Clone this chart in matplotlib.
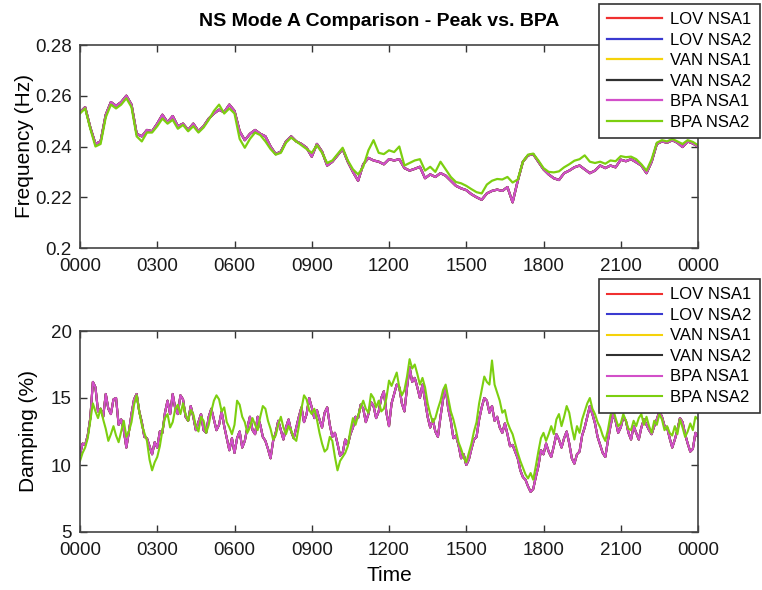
import numpy as np
import matplotlib
matplotlib.use("Agg")
import matplotlib.pyplot as plt

plt.rcParams['font.family'] = ['Liberation Sans', 'DejaVu Sans']

# sample times in hours: frequency every 12 min, damping every 6 min
hours = np.arange(121) * 0.2
hours_fine = np.arange(241) * 0.1

tick_hours = [0, 3, 6, 9, 12, 15, 18, 21, 24]
tick_labels = ['0000', '0300', '0600', '0900', '1200', '1500', '1800', '2100', '0000']

series_names = ['LOV NSA1', 'LOV NSA2', 'VAN NSA1', 'VAN NSA2', 'BPA NSA1', 'BPA NSA2']
series_colors = ['#f03030', '#3a3ad0', '#f5d20a', '#303030', '#d24fc9', '#7ccf10']

# frequency (Hz), BPA NSA1 (magenta trace; peak-site traces sit under it)
freq_bpa1 = [
    0.2535, 0.2555, 0.2475, 0.2410, 0.2420, 0.2525, 0.2575, 0.2560, 0.2575, 0.2600,
    0.2565, 0.2450, 0.2440, 0.2465, 0.2460, 0.2490, 0.2525, 0.2495, 0.2520, 0.2480,
    0.2490, 0.2465, 0.2490, 0.2460, 0.2480, 0.2510, 0.2530, 0.2545, 0.2535, 0.2565,
    0.2540, 0.2460, 0.2425, 0.2450, 0.2465, 0.2450, 0.2440, 0.2400, 0.2370, 0.2380,
    0.2420, 0.2440, 0.2420, 0.2410, 0.2395, 0.2360, 0.2410, 0.2380, 0.2325, 0.2340,
    0.2365, 0.2390, 0.2340, 0.2300, 0.2265, 0.2330, 0.2355, 0.2345, 0.2340, 0.2330,
    0.2350, 0.2345, 0.2350, 0.2315, 0.2305, 0.2312, 0.2320, 0.2275, 0.2290, 0.2280,
    0.2295, 0.2285, 0.2265, 0.2245, 0.2235, 0.2228, 0.2212, 0.2200, 0.2190, 0.2215,
    0.2225, 0.2230, 0.2225, 0.2240, 0.2180, 0.2265, 0.2340, 0.2365, 0.2370, 0.2340,
    0.2310, 0.2290, 0.2275, 0.2268, 0.2295, 0.2305, 0.2318, 0.2325, 0.2310, 0.2295,
    0.2305, 0.2325, 0.2315, 0.2325, 0.2318, 0.2348, 0.2342, 0.2350, 0.2338, 0.2325,
    0.2295, 0.2340, 0.2410, 0.2420, 0.2415, 0.2425, 0.2415, 0.2398, 0.2420, 0.2412,
    0.2400]

# frequency (Hz), BPA NSA2 (green trace)
freq_bpa2 = [
    0.2530, 0.2550, 0.2470, 0.2400, 0.2410, 0.2515, 0.2565, 0.2550, 0.2565, 0.2590,
    0.2555, 0.2440, 0.2420, 0.2455, 0.2455, 0.2480, 0.2510, 0.2490, 0.2505, 0.2470,
    0.2485, 0.2460, 0.2480, 0.2455, 0.2475, 0.2505, 0.2540, 0.2565, 0.2530, 0.2550,
    0.2530, 0.2430, 0.2395, 0.2430, 0.2455, 0.2445, 0.2420, 0.2390, 0.2368, 0.2375,
    0.2415, 0.2435, 0.2420, 0.2405, 0.2390, 0.2375, 0.2405, 0.2375, 0.2335, 0.2345,
    0.2370, 0.2395, 0.2345, 0.2310, 0.2290, 0.2320, 0.2385, 0.2425, 0.2375, 0.2370,
    0.2385, 0.2378, 0.2400, 0.2325, 0.2335, 0.2345, 0.2350, 0.2305, 0.2320, 0.2300,
    0.2340, 0.2310, 0.2280, 0.2260, 0.2255, 0.2245, 0.2232, 0.2220, 0.2215, 0.2250,
    0.2265, 0.2272, 0.2270, 0.2280, 0.2258, 0.2270, 0.2340, 0.2368, 0.2372, 0.2345,
    0.2315, 0.2300, 0.2298, 0.2302, 0.2318, 0.2330, 0.2344, 0.2350, 0.2365, 0.2340,
    0.2335, 0.2340, 0.2332, 0.2345, 0.2342, 0.2362, 0.2358, 0.2360, 0.2350, 0.2330,
    0.2305, 0.2350, 0.2415, 0.2425, 0.2420, 0.2430, 0.2420, 0.2410, 0.2425, 0.2418,
    0.2405]

# damping (%), BPA NSA1 - one row per two hours
damp_bpa1 = [
    10.8, 11.6, 11.5, 12.2, 13.5, 16.2, 15.8, 14.0, 14.2, 13.6, 15.3, 14.2, 13.8, 14.9, 15.0, 13.0, 13.4, 12.6, 11.3, 12.5,
    13.8, 14.9, 15.3, 14.0, 13.2, 12.1, 12.0, 11.4, 10.8, 11.7, 11.3, 12.5, 12.4, 13.9, 14.8, 13.8, 15.3, 14.2, 13.8, 15.2,
    14.9, 13.6, 13.3, 14.4, 13.6, 12.6, 13.2, 13.8, 12.6, 12.4, 13.6, 14.2, 13.4, 12.6, 13.0, 14.0, 12.9, 12.0, 11.1, 12.0,
    10.9, 12.0, 12.5, 11.3, 11.8, 12.8, 13.6, 12.6, 12.3, 13.6, 13.0, 12.1, 11.8, 11.2, 10.5, 11.8, 12.4, 13.3, 12.6, 11.9,
    12.8, 13.4, 12.5, 12.0, 12.8, 13.6, 14.3, 13.2, 13.8, 15.0, 14.3, 13.5, 14.1, 13.4, 12.8, 13.9, 14.3, 13.0, 12.1, 12.4,
    11.6, 10.7, 10.9, 11.9, 11.5, 12.3, 12.8, 13.6, 13.5, 14.5, 14.2, 13.2, 13.8, 14.7, 14.4, 13.5, 14.0, 15.0, 15.5, 13.9,
    12.9, 14.6, 15.3, 16.0, 15.8, 14.6, 14.0, 15.8, 17.3, 16.2, 16.5, 15.8, 15.0, 16.0, 14.8, 13.6, 12.8, 13.4, 12.5, 12.1,
    13.6, 14.9, 15.8, 14.2, 13.3, 12.0, 12.2, 11.5, 10.5, 10.8, 10.0, 10.4, 11.2, 11.9, 12.1, 13.4, 14.3, 15.0, 14.8, 13.9,
    14.4, 13.3, 13.6, 12.8, 12.4, 13.1, 12.3, 11.4, 11.5, 11.0, 10.5, 9.6, 9.1, 8.9, 8.4, 8.0, 8.2, 9.1, 9.9, 11.1,
    10.8, 11.6, 11.0, 10.6, 11.4, 12.3, 11.9, 11.3, 12.0, 12.5, 11.6, 10.5, 10.1, 10.8, 11.0, 12.2, 12.8, 13.6, 14.4, 13.8,
    13.1, 12.1, 11.5, 10.9, 10.6, 11.8, 12.9, 13.8, 13.3, 12.4, 12.8, 13.6, 13.3, 12.4, 11.9, 12.9, 12.4, 11.9, 12.8, 13.4,
    13.0, 12.6, 12.3, 12.9, 13.4, 14.0, 13.6, 12.9, 12.8, 12.0, 11.3, 11.9, 12.6, 13.5, 13.2, 12.3, 11.6, 11.0, 11.2, 12.4,
    12.1]

# damping (%), BPA NSA2
damp_bpa2 = [
    10.3, 10.9, 11.3, 12.0, 13.3, 14.6, 14.0, 13.5, 14.2, 13.4, 12.7, 11.8, 12.3, 12.9, 12.2, 11.7, 12.5, 13.3, 12.1, 12.5,
    13.2, 14.5, 15.2, 14.0, 13.0, 12.4, 11.8, 10.4, 9.6, 10.2, 10.6, 11.4, 12.6, 13.5, 13.8, 12.8, 13.2, 14.2, 14.5, 13.8,
    14.6, 13.8, 13.3, 14.1, 13.8, 12.9, 12.5, 13.6, 13.3, 12.4, 13.0, 14.0, 14.8, 15.2, 14.9, 14.0, 14.3, 13.2, 12.8, 12.3,
    13.0, 14.8, 14.5, 13.6, 13.2, 12.4, 12.8, 13.5, 13.0, 12.6, 13.6, 14.4, 14.2, 13.3, 12.7, 11.9, 12.2, 13.0, 13.6, 12.8,
    12.3, 12.9, 12.6, 12.0, 11.8, 12.9, 14.2, 15.2, 14.9, 14.1, 13.8, 14.2, 13.4, 12.4, 11.6, 11.0, 11.2, 12.1, 11.8, 10.6,
    9.6, 10.3, 10.6, 10.9, 11.4, 12.6, 13.5, 13.0, 13.7, 14.3, 14.8, 14.2, 13.9, 15.3, 15.0, 14.3, 14.8, 14.0, 14.2, 15.0,
    16.3, 15.9, 16.4, 16.9, 15.8, 15.2, 15.6, 16.6, 17.9, 17.2, 17.5, 16.8, 16.0, 16.5, 15.8, 14.6, 13.8, 13.2, 13.5, 14.2,
    14.8, 15.6, 16.0, 15.0, 14.0, 13.4, 12.6, 11.7, 11.2, 10.6, 10.2, 10.9, 11.6, 12.5, 13.2, 14.6, 15.6, 16.6, 16.2, 16.0,
    17.8, 16.0, 15.4, 14.8, 13.9, 14.1, 13.2, 12.7, 12.3, 11.6, 10.9, 10.3, 9.8, 9.3, 9.0, 9.4, 8.9, 9.9, 11.0, 12.0,
    12.4, 11.8, 12.3, 12.9, 12.3, 13.4, 13.8, 12.9, 13.6, 14.4, 13.9, 12.8, 11.9, 12.9, 12.4, 13.4, 14.0, 14.6, 15.0, 14.2,
    13.8, 13.2, 12.8, 12.2, 11.8, 12.6, 13.7, 14.2, 13.5, 12.9, 13.1, 13.8, 13.3, 12.7, 12.6, 13.3, 12.9, 13.5, 13.8, 13.0,
    13.6, 12.9, 12.4, 13.3, 13.0, 13.8, 13.4, 12.6, 12.9, 12.4, 12.2, 12.9, 12.3, 13.4, 12.8, 12.1, 12.5, 13.1, 12.6, 13.6,
    13.4]

# LOV / VAN estimates lie under the BPA NSA1 trace in the picture
freq_data = [freq_bpa1, freq_bpa1, freq_bpa1, freq_bpa1, freq_bpa1, freq_bpa2]
damp_data = [damp_bpa1, damp_bpa1, damp_bpa1, damp_bpa1, damp_bpa1, damp_bpa2]

W, H = 762, 590
fig = plt.figure(figsize=(W / 100, H / 100), dpi=100)
ax1 = fig.add_axes([80 / W, 1 - 248 / H, 618 / W, 203 / H])
ax2 = fig.add_axes([80 / W, 1 - 532 / H, 618 / W, 201 / H])


def style_axis(ax):
    ax.set_xlim(0, 24)
    ax.set_xticks(tick_hours)
    ax.set_xticklabels(tick_labels)
    ax.tick_params(direction='in', top=True, right=True, labelsize=13.5,
                   length=5, width=1.0, colors='#333333', labelcolor='#1a1a1a')
    ax.tick_params(axis='x', pad=7)
    ax.tick_params(axis='y', pad=6)
    for sp in ax.spines.values():
        sp.set_linewidth(1.2)
        sp.set_color('#444444')


for data, name, color in zip(freq_data, series_names, series_colors):
    ax1.plot(hours, data, color=color, lw=1.6, label=name)
style_axis(ax1)
ax1.set_ylim(0.2, 0.28)
ax1.set_yticks([0.2, 0.22, 0.24, 0.26, 0.28])
ax1.set_yticklabels(['0.2', '0.22', '0.24', '0.26', '0.28'])
ax1.set_ylabel('Frequency (Hz)', fontsize=15, labelpad=1)

for data, name, color in zip(damp_data, series_names, series_colors):
    ax2.plot(hours_fine, data, color=color, lw=1.5, label=name)
style_axis(ax2)
ax2.set_ylim(5, 20)
ax2.set_yticks([5, 10, 15, 20])
ax2.set_ylabel('Damping (%)', fontsize=15, labelpad=9)
ax2.set_xlabel('Time', fontsize=15, labelpad=5)

fig.text(379 / W, 1 - 22 / H, 'NS Mode A Comparison - Peak vs. BPA',
         ha='center', va='center', fontsize=14, fontweight='bold')

for ax, top in [(ax1, 4), (ax2, 279)]:
    leg = ax.legend(loc='upper right', bbox_to_anchor=(760 / W, 1 - top / H),
                    bbox_transform=fig.transFigure, fontsize=12, frameon=True,
                    fancybox=False, framealpha=1, edgecolor='#333333',
                    handlelength=3.3, handletextpad=0.5, labelspacing=0.33,
                    borderpad=0.5, borderaxespad=0)
    leg.get_frame().set_linewidth(1.2)
    leg.set_zorder(10)

fig.savefig('out.png', dpi=100)
